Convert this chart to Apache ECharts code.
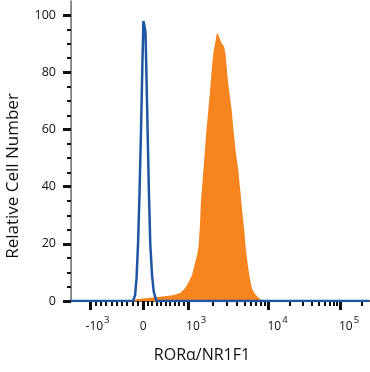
<!DOCTYPE html>
<html><head><meta charset="utf-8">
<script src="https://cdn.jsdelivr.net/npm/echarts@6/dist/echarts.min.js"></script>
<style>html,body{margin:0;padding:0;background:#fff}#c{width:370px;height:372px}</style>
</head><body><div id="c"></div>
<script>
// x axis is a display (logicle-like) channel scale 0..1000
const tickValues   = [-1000, 0, 1000, 10000, 100000];
const tickChannels = [64, 242, 393, 663, 904];
const tickLabels   = ['-10|3', '0', '10|3', '10|4', '10|5'];
const labelChannels = [89, 242, 420, 693, 933];
const minorValues = [-900,-800,-700,-600,-500,-400,-300,-200,-100,
  100,200,300,400,500,600,700,800,900,
  2000,3000,4000,5000,6000,7000,8000,9000,
  20000,30000,40000,50000,60000,70000,80000,90000,200000];
const yMajor = [0, 20, 40, 60, 80, 100];
const yMinor = [5,10,15,25,30,35,45,50,55,65,70,75,85,90,95];
const xTitle = 'RORα/NR1F1';
const yTitle = 'Relative Cell Number';

// isotype control (blue outline)
const isoX = [0, 208, 215, 220, 225, 230, 235, 239, 243, 247, 250, 253, 257, 261, 266, 272, 278, 287, 1000];
const isoY = [0, 0, 2, 8, 20, 38, 60, 80, 98, 96, 94, 80, 60, 40, 20, 9, 3, 0, 0];

// stained sample (orange fill)
const stainX = [205, 218, 248, 299, 342, 366, 379, 389, 399, 406, 413, 418, 423, 428, 433, 436, 440, 446, 453, 460, 467, 473, 478, 485, 490, 495, 502, 507, 514, 519, 524, 530, 539, 545, 552, 561, 567, 574, 581, 587, 594, 601, 607, 614, 623, 634, 646];
const stainY = [0, 0.6, 1, 1.5, 2, 2.8, 4, 5.5, 7.5, 9, 12, 14, 16, 19, 27, 35, 40, 48, 58, 66, 74, 82, 87, 91, 94, 93, 91, 90, 89, 86, 80, 74, 67, 60, 53, 46, 40, 32, 25, 18, 12, 7.5, 4.5, 3, 1.8, 0.7, 0];

function toChannel(v) {
  const tv = tickValues, tc = tickChannels;
  if (v <= 1000) {
    for (let i = 0; i < 2; i++) {
      if (v >= tv[i] && v <= tv[i + 1]) return tc[i] + (v - tv[i]) / (tv[i + 1] - tv[i]) * (tc[i + 1] - tc[i]);
    }
  }
  for (let i = 2; i < tv.length - 1; i++) {
    if (v <= tv[i + 1]) return tc[i] + Math.log10(v / tv[i]) * (tc[i + 1] - tc[i]);
  }
  const n = tv.length - 1;
  return tc[n] + Math.log10(v / tv[n]) * (tc[n] - tc[n - 1]);
}
const minorChannels = minorValues.map(toChannel);

const pairs = (xs, ys) => xs.map((x, i) => [x, ys[i]]);
const fontFam = '"Open Sans", "Noto Sans", sans-serif';

const chart = echarts.init(document.getElementById('c'), null, {renderer: 'canvas'});
chart.setOption({
  animation: false,
  grid: {left: 71, right: 1, top: 1, bottom: 71, containLabel: false},
  graphic: [
    {type: 'text', x: 13, y: 176, rotation: Math.PI / 2,
     style: {text: yTitle, font: '17px ' + fontFam, fill: '#111', align: 'center', verticalAlign: 'middle'}},
    {type: 'text', x: 202, y: 355,
     style: {text: xTitle, font: '16px ' + fontFam, fill: '#111', align: 'center', verticalAlign: 'middle'}}
  ],
  xAxis: [
    {
      type: 'value', min: 0, max: 1000, position: 'bottom',
      axisLine: {show: true, onZero: false, lineStyle: {color: '#1b2a48', width: 2}},
      axisTick: {show: true, customValues: tickChannels, length: 9, lineStyle: {color: '#111', width: 3}},
      axisLabel: {
        show: true, customValues: labelChannels, margin: 14,
        formatter: function (v) {
          const i = labelChannels.indexOf(v);
          const t = tickLabels[i] || '';
          const parts = t.split('|');
          if (parts.length === 2) return '{b|' + parts[0] + '}{s|' + parts[1] + '}';
          return '{b|' + parts[0] + '}';
        },
        rich: {
          b: {fontFamily: fontFam, fontSize: 12, color: '#111', verticalAlign: 'bottom', lineHeight: 18},
          s: {fontFamily: fontFam, fontSize: 9.5, color: '#111', verticalAlign: 'bottom', lineHeight: 18, padding: [0, 0, 8, 1]}
        }
      },
      splitLine: {show: false}
    },
    {
      type: 'value', min: 0, max: 1000, position: 'bottom',
      axisLine: {show: false},
      axisTick: {show: true, customValues: minorChannels, length: 5, lineStyle: {color: '#111', width: 2}},
      axisLabel: {show: false},
      splitLine: {show: false}
    },
    {
      type: 'value', min: 0, max: 1000, position: 'top',
      axisLine: {show: true, lineStyle: {color: '#666', width: 2}},
      axisTick: {show: false}, axisLabel: {show: false}, splitLine: {show: false}
    }
  ],
  yAxis: [
    {
      type: 'value', min: 0, max: 105, position: 'left',
      axisLine: {show: true, lineStyle: {color: '#aaa', width: 1}},
      axisTick: {show: true, customValues: yMajor, length: 8, lineStyle: {color: '#111', width: 3}},
      axisLabel: {show: true, customValues: yMajor, margin: 15, fontFamily: fontFam, fontSize: 12.5, color: '#111'},
      splitLine: {show: false}
    },
    {
      type: 'value', min: 0, max: 105, position: 'left',
      axisLine: {show: false},
      axisTick: {show: true, customValues: yMinor, length: 4, lineStyle: {color: '#111', width: 2}},
      axisLabel: {show: false}, splitLine: {show: false}
    },
    {
      type: 'value', min: 0, max: 105, position: 'right',
      axisLine: {show: true, lineStyle: {color: '#777', width: 1.5}},
      axisTick: {show: false}, axisLabel: {show: false}, splitLine: {show: false}
    }
  ],
  series: [
    {
      type: 'line', xAxisIndex: 0, yAxisIndex: 0, data: pairs(stainX, stainY),
      symbol: 'none', smooth: false, z: 2,
      lineStyle: {width: 0, color: '#f6851f'},
      itemStyle: {color: '#f6851f'},
      areaStyle: {color: '#f6851f', opacity: 1}
    },
    {
      type: 'line', xAxisIndex: 0, yAxisIndex: 0, data: pairs(isoX, isoY),
      symbol: 'none', smooth: false, z: 3,
      lineStyle: {width: 2.5, color: '#1f56a4'},
      itemStyle: {color: '#1f56a4'}
    }
  ]
});
</script>
</body></html>
